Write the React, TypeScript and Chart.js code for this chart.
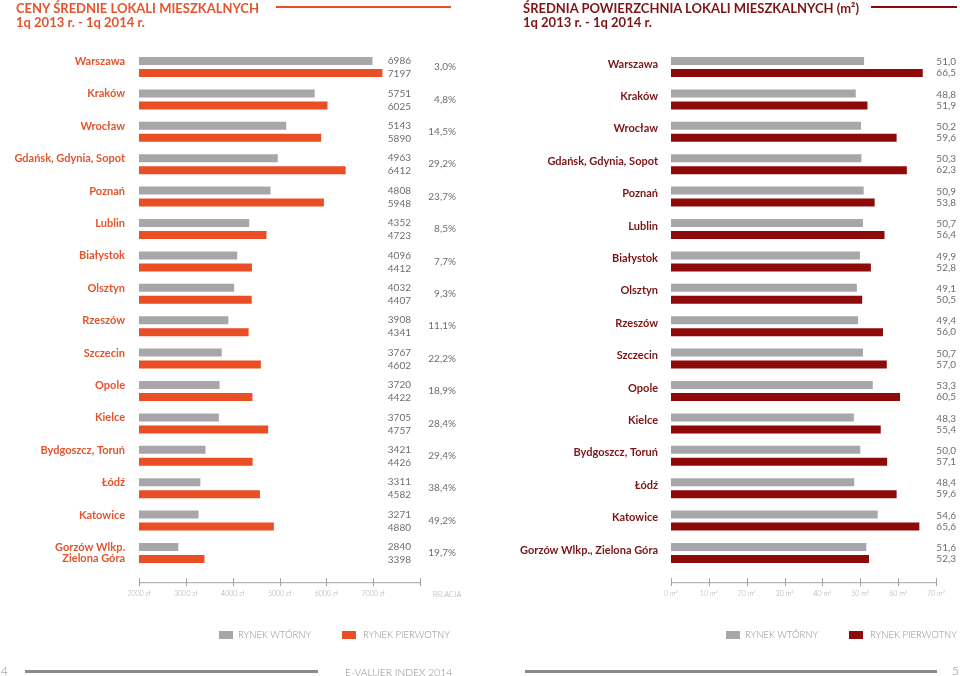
import React, { useEffect, useRef } from 'react';
import { Chart, registerables } from 'chart.js';

Chart.register(...registerables);

const cities = [
  'Warszawa', 'Kraków', 'Wrocław', 'Gdańsk, Gdynia, Sopot', 'Poznań', 'Lublin',
  'Białystok', 'Olsztyn', 'Rzeszów', 'Szczecin', 'Opole', 'Kielce',
  'Bydgoszcz, Toruń', 'Łódź', 'Katowice', 'Gorzów Wlkp., Zielona Góra',
];
const leftCityLines: string[][] = [
  ['Warszawa', ''], ['Kraków', ''], ['Wrocław', ''], ['Gdańsk, Gdynia, Sopot', ''],
  ['Poznań', ''], ['Lublin', ''], ['Białystok', ''], ['Olsztyn', ''], ['Rzeszów', ''],
  ['Szczecin', ''], ['Opole', ''], ['Kielce', ''], ['Bydgoszcz, Toruń', ''], ['Łódź', ''],
  ['Katowice', ''], ['Gorzów Wlkp.', 'Zielona Góra'],
];
const priceSecondary = [6986, 5751, 5143, 4963, 4808, 4352, 4096, 4032, 3908, 3767, 3720, 3705, 3421, 3311, 3271, 2840];
const pricePrimary = [7197, 6025, 5890, 6412, 5948, 4723, 4412, 4407, 4341, 4602, 4422, 4757, 4426, 4582, 4880, 3398];
const priceRelation = ['3,0%', '4,8%', '14,5%', '29,2%', '23,7%', '8,5%', '7,7%', '9,3%', '11,1%', '22,2%', '18,9%', '28,4%', '29,4%', '38,4%', '49,2%', '19,7%'];
const areaSecondary = [51.0, 48.8, 50.2, 50.3, 50.9, 50.7, 49.9, 49.1, 49.4, 50.7, 53.3, 48.3, 50.0, 48.4, 54.6, 51.6];
const areaPrimary = [66.5, 51.9, 59.6, 62.3, 53.8, 56.4, 52.8, 50.5, 56.0, 57.0, 60.5, 55.4, 57.1, 59.6, 65.6, 52.3];
const priceTicks = [2000, 3000, 4000, 5000, 6000, 7000, 8000];
const priceTickLabels = ['2000 zł', '3000 zł', '4000 zł', '5000 zł', '6000 zł', '7000 zł', ''];
const areaTicks = [0, 10, 20, 30, 40, 50, 60, 70];
const areaTickLabels = ['0 m²', '10 m²', '20 m²', '30 m²', '40 m²', '50 m²', '60 m²', '70 m²'];
const seriesNames = ['RYNEK WTÓRNY', 'RYNEK PIERWOTNY'];

const FONT = 'Lato, "Open Sans", sans-serif';
const GRAY = '#a7a7ab';
const ORANGE = '#e94e25';
const DARKRED = '#8e0a0a';
const ORANGE_TEXT = '#e4542d';
const DARKRED_TEXT = '#7d1416';

type PanelOpts = {
  labels: string[];
  secondary: number[];
  primary: number[];
  primaryColor: string;
  labelColor: string;
  min: number;
  max: number;
  yWidth: number;
  padRight: number;
  tickLines: (i: number) => string | string[];
  labelLineHeight: number;
  labelOffset: number;
  labelPadding: number;
  fmt: (v: number) => string;
  valueX: number;
  dy0: number;
  dy1: number;
  relation?: string[];
  relX?: number;
  ticks: number[];
  tickLabels: string[];
  extraLabel?: string;
  extraX?: number;
};

function makeConfig(p: PanelOpts): any {
  const valuesPlugin = {
    id: 'valueLabels',
    afterDatasetsDraw(chart: any) {
      const ctx = chart.ctx;
      const m0 = chart.getDatasetMeta(0);
      const m1 = chart.getDatasetMeta(1);
      ctx.save();
      ctx.font = `10px ${FONT}`;
      ctx.fillStyle = '#6e6e6e';
      ctx.textAlign = 'right';
      ctx.textBaseline = 'middle';
      m0.data.forEach((bar: any, i: number) => {
        const b1 = m1.data[i];
        ctx.fillText(p.fmt(p.secondary[i]), p.valueX, bar.y + p.dy0);
        ctx.fillText(p.fmt(p.primary[i]), p.valueX, b1.y + p.dy1);
        if (p.relation && p.relX !== undefined) {
          ctx.fillText(p.relation[i], p.relX, (bar.y + b1.y) / 2);
        }
      });
      ctx.restore();
    },
  };
  const axisPlugin = {
    id: 'bottomAxis',
    afterDraw(chart: any) {
      const ctx = chart.ctx;
      const xs = chart.scales.x;
      const ca = chart.chartArea;
      const y = ca.bottom + 13;
      ctx.save();
      ctx.strokeStyle = '#a3a3a3';
      ctx.lineWidth = 1;
      ctx.beginPath();
      ctx.moveTo(xs.getPixelForValue(p.ticks[0]), y + 0.5);
      ctx.lineTo(xs.getPixelForValue(p.ticks[p.ticks.length - 1]), y + 0.5);
      p.ticks.forEach((t) => {
        const x = Math.round(xs.getPixelForValue(t)) + 0.5;
        ctx.moveTo(x, y - 4);
        ctx.lineTo(x, y + 4);
      });
      ctx.stroke();
      ctx.font = `300 7px ${FONT}`;
      ctx.fillStyle = '#a5a5a5';
      ctx.textAlign = 'center';
      ctx.textBaseline = 'middle';
      p.ticks.forEach((t, i) => {
        if (p.tickLabels[i]) ctx.fillText(p.tickLabels[i], xs.getPixelForValue(t), y + 12);
      });
      if (p.extraLabel && p.extraX !== undefined) {
        ctx.fillText(p.extraLabel, p.extraX, y + 13);
      }
      ctx.restore();
    },
  };
  return {
    type: 'bar',
    data: {
      labels: p.labels,
      datasets: [
        { label: seriesNames[0], data: p.secondary, backgroundColor: GRAY, base: p.min, categoryPercentage: 0.74, barPercentage: 0.67 },
        { label: seriesNames[1], data: p.primary, backgroundColor: p.primaryColor, base: p.min, categoryPercentage: 0.74, barPercentage: 0.67 },
      ],
    },
    options: {
      indexAxis: 'y',
      responsive: false,
      animation: false,
      events: [],
      layout: { padding: { top: 50.8, bottom: 106.8, left: 0, right: p.padRight } },
      plugins: { legend: { display: false }, tooltip: { enabled: false } },
      scales: {
        x: { display: false, min: p.min, max: p.max },
        y: {
          grid: { display: false },
          border: { display: false },
          afterFit(scale: any) { scale.width = p.yWidth; },
          ticks: {
            autoSkip: false,
            padding: p.labelPadding,
            labelOffset: p.labelOffset,
            color: p.labelColor,
            font: { family: FONT, size: 11, weight: 'bold', lineHeight: p.labelLineHeight },
            callback: (_v: any, i: number) => p.tickLines(i),
          },
        },
      },
    },
    plugins: [valuesPlugin, axisPlugin],
  };
}

const leftConfig = () => makeConfig({
  labels: cities,
  secondary: priceSecondary,
  primary: pricePrimary,
  primaryColor: ORANGE,
  labelColor: ORANGE_TEXT,
  min: 2000,
  max: 8000,
  yWidth: 139,
  padRight: 60,
  tickLines: (i) => leftCityLines[i],
  labelLineHeight: 1.0,
  labelOffset: 0,
  labelPadding: 6,
  fmt: (v) => String(v),
  valueX: 411,
  dy0: 0,
  dy1: 1,
  relation: priceRelation,
  relX: 456,
  ticks: priceTicks,
  tickLabels: priceTickLabels,
  extraLabel: 'RELACJA',
  extraX: 447,
});

const rightConfig = () => makeConfig({
  labels: cities,
  secondary: areaSecondary,
  primary: areaPrimary,
  primaryColor: DARKRED,
  labelColor: DARKRED_TEXT,
  min: 0,
  max: 70,
  yWidth: 191,
  padRight: 24,
  tickLines: (i) => cities[i],
  labelLineHeight: 1.2,
  labelOffset: -3,
  labelPadding: 5,
  fmt: (v) => v.toFixed(1).replace('.', ','),
  valueX: 476,
  dy0: 1,
  dy1: 0,
  ticks: areaTicks,
  tickLabels: areaTickLabels,
});

const abs = (s: React.CSSProperties): React.CSSProperties => ({ position: 'absolute', ...s });

export default function App() {
  const leftRef = useRef<HTMLCanvasElement>(null);
  const rightRef = useRef<HTMLCanvasElement>(null);
  useEffect(() => {
    const c1 = new Chart(leftRef.current as HTMLCanvasElement, leftConfig());
    const c2 = new Chart(rightRef.current as HTMLCanvasElement, rightConfig());
    return () => { c1.destroy(); c2.destroy(); };
  }, []);

  const titleStyle: React.CSSProperties = { fontSize: 13, fontWeight: 700, lineHeight: '14px', whiteSpace: 'nowrap' };
  const legendText: React.CSSProperties = { fontSize: 9.5, fontWeight: 300, color: '#8f8f8f', whiteSpace: 'nowrap', lineHeight: '12px' };

  return (
    <div style={{ position: 'fixed', left: 0, top: 0, width: 960, height: 676, background: '#fff', overflow: 'hidden', fontFamily: FONT }}>
      <canvas ref={leftRef} width={480} height={676} style={abs({ left: 0, top: 0 })} />
      <canvas ref={rightRef} width={480} height={676} style={abs({ left: 480, top: 0 })} />

      <div style={abs({ left: 16, top: 1, color: ORANGE_TEXT, ...titleStyle })}>
        CENY ŚREDNIE LOKALI MIESZKALNYCH<br />1q 2013 r. - 1q 2014 r.
      </div>
      <div style={abs({ left: 276, top: 6, width: 175, height: 2, background: ORANGE })} />
      <div style={abs({ left: 523, top: 1, color: DARKRED_TEXT, ...titleStyle })}>
        ŚREDNIA POWIERZCHNIA LOKALI MIESZKALNYCH (m²)<br />1q 2013 r. - 1q 2014 r.
      </div>
      <div style={abs({ left: 871, top: 6, width: 86, height: 2, background: DARKRED })} />

      <div style={abs({ left: 219, top: 631, width: 14, height: 8, background: GRAY })} />
      <div style={abs({ left: 238, top: 629, ...legendText })}>{seriesNames[0]}</div>
      <div style={abs({ left: 342, top: 631, width: 14, height: 8, background: ORANGE })} />
      <div style={abs({ left: 363, top: 629, ...legendText })}>{seriesNames[1]}</div>

      <div style={abs({ left: 726, top: 631, width: 14, height: 8, background: GRAY })} />
      <div style={abs({ left: 745, top: 629, ...legendText })}>{seriesNames[0]}</div>
      <div style={abs({ left: 849, top: 631, width: 14, height: 8, background: DARKRED })} />
      <div style={abs({ left: 870, top: 629, ...legendText })}>{seriesNames[1]}</div>

      <div style={abs({ left: 1, top: 664, fontSize: 12, fontWeight: 300, color: '#8f8f8f', lineHeight: '14px' })}>4</div>
      <div style={abs({ left: 25, top: 670, width: 293, height: 3, background: '#8a8a8a' })} />
      <div style={abs({ left: 345, top: 665, fontSize: 10.3, fontWeight: 300, color: '#8f8f8f', lineHeight: '14px', whiteSpace: 'nowrap' })}>E-VALUER INDEX 2014</div>
      <div style={abs({ left: 525, top: 670, width: 412, height: 3, background: '#8a8a8a' })} />
      <div style={abs({ left: 952, top: 664, fontSize: 12, fontWeight: 300, color: '#8f8f8f', lineHeight: '14px' })}>5</div>
    </div>
  );
}
